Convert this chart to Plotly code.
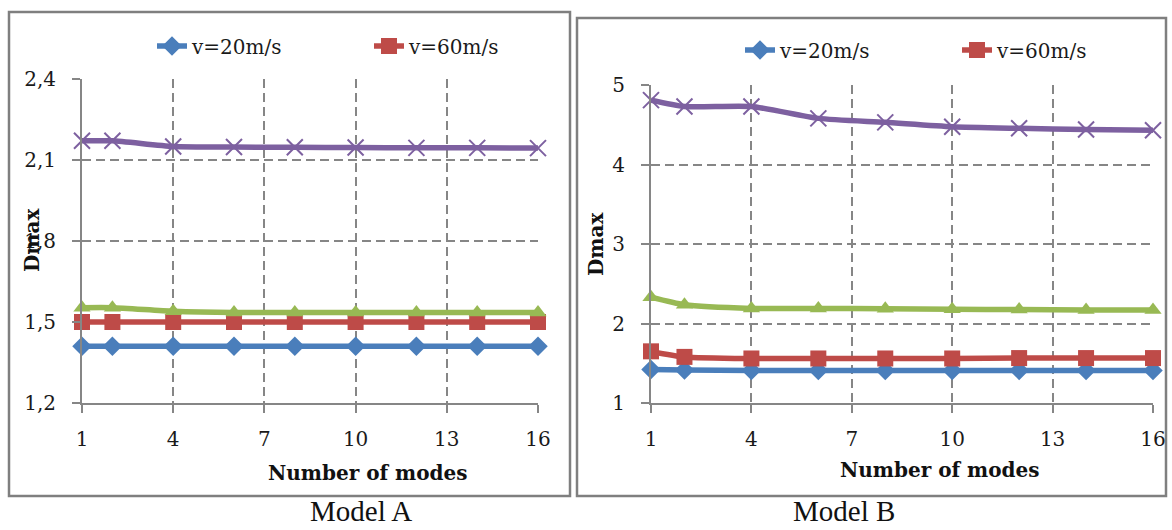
import plotly.graph_objects as go

# ---------------- data ----------------
modes = [1, 2, 4, 6, 8, 10, 12, 14, 16]
x_ticks = [1, 4, 7, 10, 13, 16]

series_names = ["v=20m/s", "v=60m/s", "series 3", "series 4"]

A_v20 = [1.41, 1.41, 1.41, 1.41, 1.41, 1.41, 1.41, 1.41, 1.41]
A_v60 = [1.50, 1.50, 1.50, 1.50, 1.50, 1.50, 1.50, 1.50, 1.50]
A_s3 = [1.553, 1.553, 1.540, 1.535, 1.535, 1.535, 1.535, 1.535, 1.535]
A_s4 = [2.171, 2.171, 2.150, 2.148, 2.147, 2.146, 2.145, 2.145, 2.144]

B_v20 = [1.42, 1.415, 1.41, 1.41, 1.41, 1.41, 1.41, 1.41, 1.41]
B_v60 = [1.65, 1.58, 1.56, 1.56, 1.56, 1.56, 1.565, 1.565, 1.565]
B_s3 = [2.33, 2.235, 2.19, 2.19, 2.185, 2.18, 2.175, 2.17, 2.17]
B_s4 = [4.81, 4.73, 4.73, 4.58, 4.53, 4.475, 4.455, 4.44, 4.43]

captions = ["Model A", "Model B"]
x_title = "Number of modes"
y_title = "Dmax"

# ---------------- styles ----------------
colors = ["#4A7EBB", "#BE4B48", "#98B954", "#7D60A0"]
symbols = ["diamond", "square", "triangle-up", "x-thin"]
msizes = [15, 16, 15, 16]
GRID = "#868686"
W, H = 1172, 530
SERIF = "DejaVu Serif"


def px(x):
    return x / W


def py(y):
    return 1 - y / H


fig = go.Figure()

panels = [
    dict(data=[A_v20, A_v60, A_s3, A_s4], xa="x", ya="y", leg="legend"),
    dict(data=[B_v20, B_v60, B_s3, B_s4], xa="x2", ya="y2", leg="legend2"),
]

for p in panels:
    for i, vals in enumerate(p["data"]):
        mk = dict(symbol=symbols[i], size=msizes[i], color=colors[i])
        if symbols[i] == "x-thin":
            mk["line"] = dict(color=colors[i], width=2)
        fig.add_trace(
            go.Scatter(
                x=modes,
                y=vals,
                name=series_names[i],
                mode="lines+markers",
                line=dict(color=colors[i], width=5.5, shape="spline", smoothing=0.6),
                marker=mk,
                xaxis=p["xa"],
                yaxis=p["ya"],
                legend=p["leg"],
                showlegend=(i < 2),
                cliponaxis=False,
                hoverinfo="skip",
            )
        )

axis_common = dict(
    showgrid=True,
    gridcolor=GRID,
    gridwidth=2,
    griddash="9px,5px",
    showline=True,
    linecolor=GRID,
    linewidth=2,
    ticks="outside",
    ticklen=8,
    tickwidth=2,
    tickcolor=GRID,
    zeroline=False,
    automargin=False,
    tickfont=dict(family=SERIF, size=20, color="#1a1a1a"),
    ticklabelstandoff=12,
)

fig.update_layout(
    width=W,
    height=H,
    autosize=False,
    margin=dict(l=0, r=0, t=0, b=0, pad=0, autoexpand=False),
    paper_bgcolor="white",
    plot_bgcolor="white",
    separators=", ",
    xaxis=dict(axis_common, domain=[px(82), px(538)], range=[1, 16],
               tickvals=x_ticks, anchor="y", ticklabelstandoff=9),
    yaxis=dict(axis_common, domain=[py(403), py(79)], range=[1.2, 2.4],
               tickvals=[1.2, 1.5, 1.8, 2.1, 2.4], tickformat=".1f", anchor="x"),
    xaxis2=dict(axis_common, domain=[px(651), px(1153)], range=[1, 16],
                tickvals=x_ticks, anchor="y2", ticklabelstandoff=9),
    yaxis2=dict(axis_common, domain=[py(403), py(85)], range=[1, 5],
                tickvals=[1, 2, 3, 4, 5], anchor="x2"),
    legend=dict(orientation="h", x=px(152), xanchor="left", y=py(46), yanchor="middle",
                font=dict(family=SERIF, size=20, color="#1a1a1a"),
                entrywidth=172, bgcolor="rgba(0,0,0,0)", itemwidth=30),
    legend2=dict(orientation="h", x=px(740), xanchor="left", y=py(50), yanchor="middle",
                 font=dict(family=SERIF, size=20, color="#1a1a1a"),
                 entrywidth=172, bgcolor="rgba(0,0,0,0)", itemwidth=30),
)

# panel frames
fig.add_shape(type="rect", xref="paper", yref="paper",
              x0=px(9), x1=px(570), y0=py(496), y1=py(12),
              line=dict(color="#7f7f7f", width=2.5), layer="below")
fig.add_shape(type="rect", xref="paper", yref="paper",
              x0=px(577), x1=px(1166), y0=py(496), y1=py(18),
              line=dict(color="#7f7f7f", width=2.5), layer="below")

# axis titles
for cx, cy in [(368, 473), (940, 470)]:
    fig.add_annotation(x=px(cx), y=py(cy), xref="paper", yref="paper",
                       text="<b>" + x_title + "</b>", showarrow=False,
                       font=dict(family=SERIF, size=20, color="#111"),
                       xanchor="center", yanchor="middle")

for cx, cy in [(32, 240), (596, 244)]:
    fig.add_annotation(x=px(cx), y=py(cy), xref="paper", yref="paper",
                       text="<b>" + y_title + "</b>", textangle=-90, showarrow=False,
                       font=dict(family=SERIF, size=20, color="#111"),
                       xanchor="center", yanchor="middle")

# captions
for cap, cx in zip(captions, [361, 844]):
    fig.add_annotation(x=px(cx), y=py(511), xref="paper", yref="paper",
                       text=cap, showarrow=False, borderpad=0,
                       font=dict(family="Liberation Serif", size=29, color="#111"),
                       xanchor="center", yanchor="middle")

page_css = (
    "document.documentElement.style.margin='0';"
    "document.documentElement.style.overflow='hidden';"
    "document.body.style.margin='0';"
    "document.body.style.overflow='hidden';"
)
fig.write_html("out.html", post_script=page_css,
               config={"displayModeBar": False, "staticPlot": True})
